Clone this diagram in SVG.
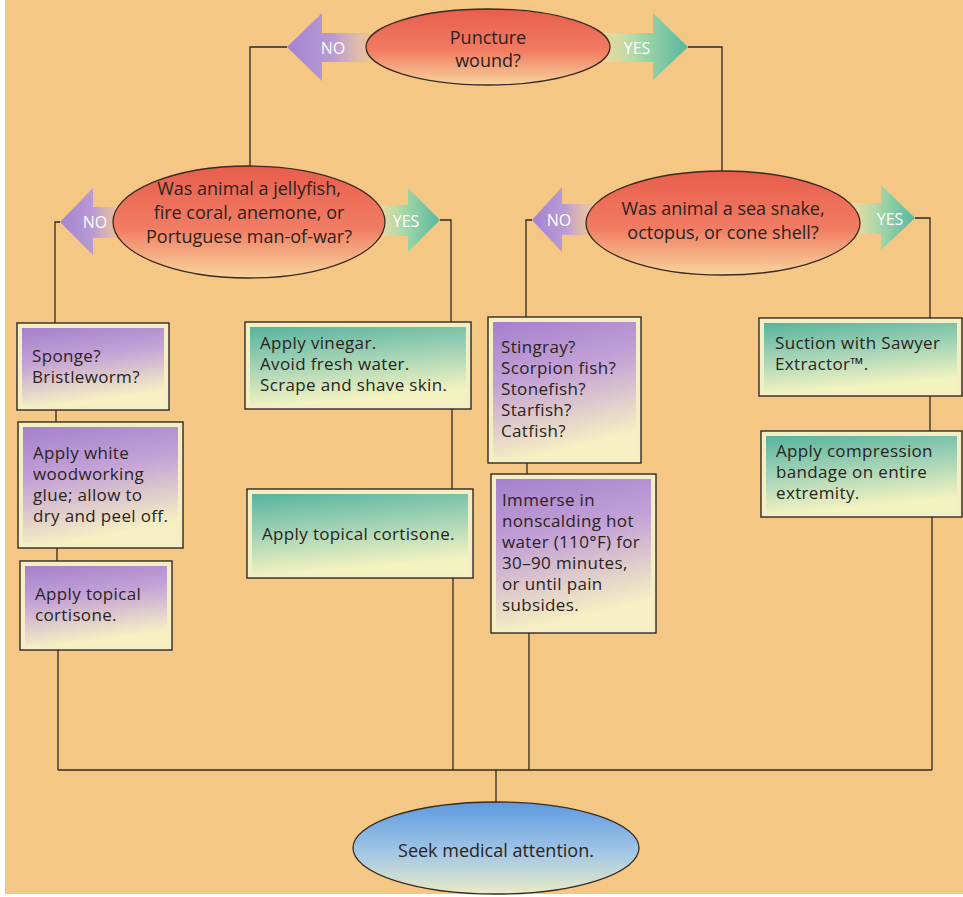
<svg xmlns="http://www.w3.org/2000/svg" width="963" height="897" viewBox="0 0 963 897">
  <defs>
    <linearGradient id="gPurple" x1="0" y1="0" x2="0.25" y2="1">
      <stop offset="0" stop-color="#a67fcd"/>
      <stop offset="0.45" stop-color="#c4a2d6"/>
      <stop offset="1" stop-color="#f6f0c2"/>
    </linearGradient>
    <linearGradient id="gTeal" x1="0" y1="0" x2="0.25" y2="1">
      <stop offset="0" stop-color="#57b49f"/>
      <stop offset="0.5" stop-color="#a3d3b6"/>
      <stop offset="1" stop-color="#f3f3c0"/>
    </linearGradient>
    <linearGradient id="gCoral" x1="0" y1="0" x2="0" y2="1">
      <stop offset="0" stop-color="#e85d4d"/>
      <stop offset="0.55" stop-color="#f17c63"/>
      <stop offset="1" stop-color="#f7d59c"/>
    </linearGradient>
    <linearGradient id="gBlue" x1="0" y1="0" x2="0" y2="1">
      <stop offset="0" stop-color="#5d9be0"/>
      <stop offset="0.55" stop-color="#a2c6e6"/>
      <stop offset="1" stop-color="#e9ecc6"/>
    </linearGradient>
    <!-- arrow fills: strong colour at the tip, fading toward the ellipse -->
    <linearGradient id="gNoL" x1="0" y1="0" x2="1" y2="0">
      <stop offset="0" stop-color="#a283d2"/>
      <stop offset="0.45" stop-color="#b99bd4"/>
      <stop offset="1" stop-color="#f6d2a0" stop-opacity="0.2"/>
    </linearGradient>
    <linearGradient id="gYesR" x1="0" y1="0" x2="1" y2="0">
      <stop offset="0" stop-color="#f3efb8" stop-opacity="0.3"/>
      <stop offset="0.5" stop-color="#a9d8a8"/>
      <stop offset="1" stop-color="#56b8a0"/>
    </linearGradient>
  </defs>
  <style>
    .bg { fill: #f5c784; }
    .line { fill: none; stroke: #2e2a26; stroke-width: 1.3; }
    .box { stroke: #2e2a26; stroke-width: 1.4; fill: #f4eec4; }
    .purple { fill: url(#gPurple); }
    .teal { fill: url(#gTeal); }
    .oval { fill: url(#gCoral); stroke: #3a2a22; stroke-width: 1.3; }
    .end { fill: url(#gBlue); stroke: #3a2a22; stroke-width: 1.3; }
    .no { fill: url(#gNoL); }
    .yes { fill: url(#gYesR); }
    text { font-family: "Open Sans", "Noto Sans", "DejaVu Sans", sans-serif; font-size: 18px; fill: #2a2420; }
    .t { font-size: 17px; letter-spacing: 0.35px; }
    .c { text-anchor: middle; }
    .lbl { fill: #ffffff; font-size: 16px; text-anchor: middle; dominant-baseline: central; }
  </style>

  <rect x="0" y="0" width="963" height="897" fill="#ffffff"/>
  <rect class="bg" x="5" y="0" width="958" height="894"/>

  <!-- connectors -->
  <g id="connectors">
    <path class="line" d="M287,47 H250 V166"/>
    <path class="line" d="M688,47 H722 V171"/>
    <path class="line" d="M60,222 H55 V323"/>
    <path class="line" d="M440,220 H451 V322"/>
    <path class="line" d="M532,220 H526 V317"/>
    <path class="line" d="M915,218 H930 V318"/>
    <path class="line" d="M56,410 V422"/>
    <path class="line" d="M57,548 V561"/>
    <path class="line" d="M58,650 V770"/>
    <path class="line" d="M452,409 V489"/>
    <path class="line" d="M453,578 V770"/>
    <path class="line" d="M527,463 V474"/>
    <path class="line" d="M529,633 V770"/>
    <path class="line" d="M930,396 V431"/>
    <path class="line" d="M932,517 V770"/>
    <path class="line" d="M58,770 H932"/>
    <path class="line" d="M496,770 V802"/>
  </g>

  <!-- decision: puncture wound -->
  <g id="q-puncture">
    <polygon class="no" points="287,47 322,13 322,33 390,33 390,62 322,62 322,81"/>
    <text class="lbl" x="333" y="48">NO</text>
    <polygon class="yes" points="688,47 653,13 653,33 588,33 588,62 653,62 653,80"/>
    <text class="lbl" x="637" y="48">YES</text>
    <ellipse class="oval" cx="488" cy="47" rx="122" ry="38"/>
    <text class="c" x="488" y="44">Puncture</text>
    <text class="c" x="488" y="67">wound?</text>
  </g>

  <!-- decision: jellyfish group -->
  <g id="q-jellyfish">
    <polygon class="no" points="60,222 93,188 93,207 135,207 135,238 93,238 93,255"/>
    <text class="lbl" x="95" y="222">NO</text>
    <polygon class="yes" points="440,220 408,188 408,205 365,205 365,236 408,236 408,252"/>
    <text class="lbl" x="406" y="221">YES</text>
    <ellipse class="oval" cx="249" cy="222" rx="136" ry="56"/>
    <text class="c" x="249" y="195">Was animal a jellyfish,</text>
    <text class="c" x="249" y="219">fire coral, anemone, or</text>
    <text class="c" x="249" y="243">Portuguese man-of-war?</text>
  </g>

  <!-- decision: sea snake group -->
  <g id="q-seasnake">
    <polygon class="no" points="532,220 562,187 562,204 605,204 605,235 562,235 562,252"/>
    <text class="lbl" x="559" y="220">NO</text>
    <polygon class="yes" points="915,218 881,185 881,203 840,203 840,234 881,234 881,250"/>
    <text class="lbl" x="890" y="219">YES</text>
    <ellipse class="oval" cx="723" cy="223" rx="137" ry="52"/>
    <text class="c" x="723" y="215">Was animal a sea snake,</text>
    <text class="c" x="723" y="239">octopus, or cone shell?</text>
  </g>

  <!-- NO branch of the jellyfish question -->
  <g id="n-sponge">
    <rect class="box" x="17" y="323" width="152" height="87"/>
    <rect class="purple" x="22" y="328" width="142" height="77"/>
    <text class="t" x="32" y="362">Sponge?</text>
    <text class="t" x="32" y="383">Bristleworm?</text>
  </g>
  <g id="n-glue">
    <rect class="box" x="18" y="422" width="165" height="126"/>
    <rect class="purple" x="23" y="427" width="155" height="116"/>
    <text class="t" x="33" y="459">Apply white</text>
    <text class="t" x="33" y="480">woodworking</text>
    <text class="t" x="33" y="501">glue; allow to</text>
    <text class="t" x="33" y="522">dry and peel off.</text>
  </g>
  <g id="n-cortisone-a">
    <rect class="box" x="20" y="561" width="152" height="89"/>
    <rect class="purple" x="25" y="566" width="142" height="79"/>
    <text class="t" x="35" y="600">Apply topical</text>
    <text class="t" x="35" y="621">cortisone.</text>
  </g>

  <!-- YES branch of the jellyfish question -->
  <g id="n-vinegar">
    <rect class="box" x="245" y="322" width="226" height="87"/>
    <rect class="teal" x="250" y="327" width="216" height="77"/>
    <text class="t" x="260" y="349">Apply vinegar.</text>
    <text class="t" x="260" y="370">Avoid fresh water.</text>
    <text class="t" x="260" y="391">Scrape and shave skin.</text>
  </g>
  <g id="n-cortisone-b">
    <rect class="box" x="247" y="489" width="226" height="89"/>
    <rect class="teal" x="252" y="494" width="216" height="79"/>
    <text class="t" x="262" y="540">Apply topical cortisone.</text>
  </g>

  <!-- NO branch of the sea snake question -->
  <g id="n-stingray">
    <rect class="box" x="488" y="317" width="153" height="146"/>
    <rect class="purple" x="493" y="322" width="143" height="136"/>
    <text class="t" x="501" y="353">Stingray?</text>
    <text class="t" x="501" y="374">Scorpion fish?</text>
    <text class="t" x="501" y="395">Stonefish?</text>
    <text class="t" x="501" y="416">Starfish?</text>
    <text class="t" x="501" y="437">Catfish?</text>
  </g>
  <g id="n-immerse">
    <rect class="box" x="491" y="474" width="165" height="159"/>
    <rect class="purple" x="496" y="479" width="155" height="149"/>
    <text class="t" x="502" y="506">Immerse in</text>
    <text class="t" x="502" y="527">nonscalding hot</text>
    <text class="t" x="502" y="548">water (110°F) for</text>
    <text class="t" x="502" y="569">30–90 minutes,</text>
    <text class="t" x="502" y="590">or until pain</text>
    <text class="t" x="502" y="611">subsides.</text>
  </g>

  <!-- YES branch of the sea snake question -->
  <g id="n-suction">
    <rect class="box" x="759" y="318" width="203" height="78"/>
    <rect class="teal" x="764" y="323" width="193" height="68"/>
    <text class="t" x="775" y="349">Suction with Sawyer</text>
    <text class="t" x="775" y="370">Extractor™.</text>
  </g>
  <g id="n-compression">
    <rect class="box" x="761" y="431" width="201" height="86"/>
    <rect class="teal" x="766" y="436" width="191" height="76"/>
    <text class="t" x="776" y="457">Apply compression</text>
    <text class="t" x="776" y="478">bandage on entire</text>
    <text class="t" x="776" y="499">extremity.</text>
  </g>

  <!-- terminal -->
  <g id="n-medical">
    <ellipse class="end" cx="496" cy="848" rx="143" ry="46"/>
    <text class="c" x="496" y="857">Seek medical attention.</text>
  </g>
</svg>
